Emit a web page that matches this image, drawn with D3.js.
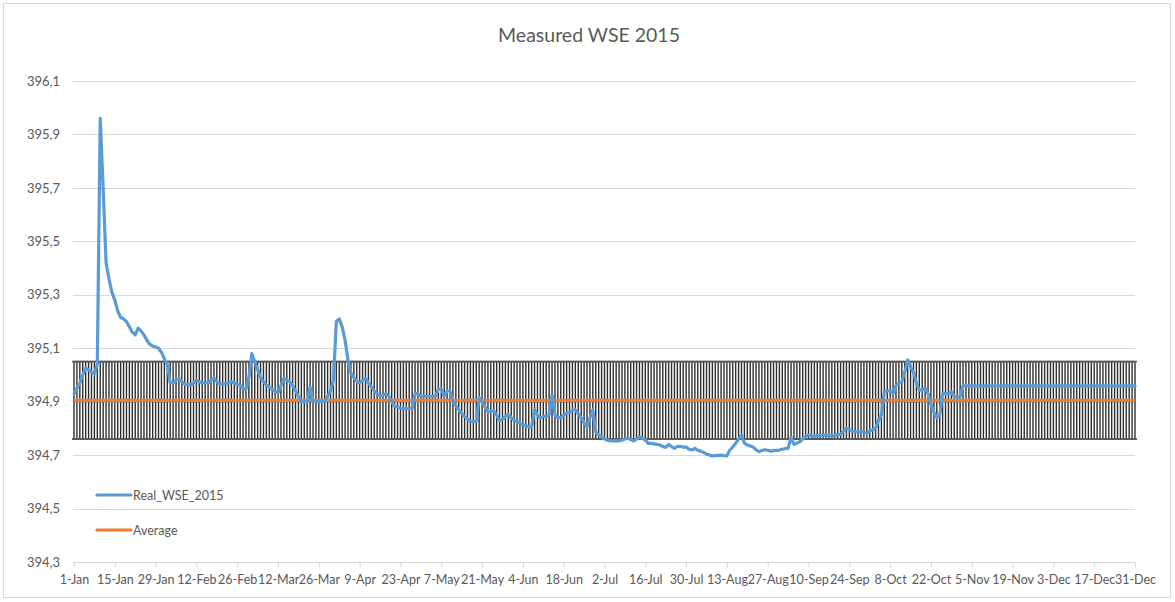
<!DOCTYPE html>
<html>
<head>
<meta charset="utf-8">
<script src="https://cdn.jsdelivr.net/npm/d3@7"></script>
<style>
body { margin:0; background:#fff; font-family: Lato, "Open Sans", sans-serif; }
svg text { fill:#595959; }
</style>
</head>
<body>
<svg id="chart" width="1175" height="602"></svg>
<script>
// daily water surface elevation, one array per month
var wseJan = [394.93,394.95,394.97,395.00,395.025,395.02,395.01,395.005,395.04,395.96,
  395.70,395.42,395.36,395.31,395.28,395.24,395.215,395.21,395.20,395.18,
  395.16,395.15,395.175,395.165,395.15,395.13,395.115,395.108,395.105,395.10,395.085];
var wseFeb = [395.06,395.04,394.97,394.97,394.98,394.985,394.975,394.965,394.965,394.962,
  394.97,394.98,394.975,394.971,394.97,394.97,394.98,394.99,394.975,394.966,
  394.968,394.969,394.972,394.975,394.97,394.965,394.962,394.95];
var wseMar = [394.946,394.99,395.08,395.05,395.02,394.99,394.975,394.962,394.955,394.946,
  394.94,394.933,394.96,394.987,394.98,394.975,394.96,394.94,394.92,394.90,
  394.90,394.90,394.956,394.90,394.90,394.90,394.90,394.90,394.92,394.94,394.98];
var wseApr = [395.20,395.21,395.18,395.13,395.056,395.006,394.99,394.975,394.971,394.98,
  394.987,394.97,394.956,394.94,394.93,394.921,394.925,394.93,394.92,394.90,
  394.883,394.88,394.876,394.874,394.874,394.874,394.874,394.93,394.93,394.92];
var wseMay = [394.92,394.92,394.92,394.92,394.92,394.947,394.947,394.92,394.94,394.94,
  394.90,394.885,394.87,394.856,394.845,394.835,394.825,394.825,394.826,394.915,
  394.90,394.88,394.863,394.863,394.866,394.85,394.828,394.835,394.845,394.853,394.84];
var wseJun = [394.83,394.825,394.82,394.813,394.81,394.806,394.806,394.869,394.85,394.84,
  394.845,394.845,394.85,394.925,394.85,394.84,394.84,394.85,394.856,394.86,
  394.869,394.869,394.855,394.84,394.82,394.806,394.84,394.869,394.787,394.775];
var wseJul = [394.768,394.76,394.756,394.753,394.753,394.753,394.753,394.756,394.76,394.763,
  394.758,394.753,394.76,394.767,394.762,394.757,394.744,394.744,394.742,394.74,
  394.738,394.732,394.729,394.74,394.732,394.725,394.733,394.733,394.73,394.73,394.722];
var wseAug = [394.719,394.725,394.718,394.715,394.71,394.704,394.70,394.697,394.698,394.699,
  394.70,394.698,394.697,394.719,394.73,394.744,394.76,394.775,394.745,394.738,
  394.734,394.73,394.72,394.713,394.717,394.72,394.718,394.715,394.717,394.718,394.719];
var wseSep = [394.722,394.725,394.725,394.767,394.74,394.745,394.75,394.76,394.77,394.775,
  394.772,394.77,394.772,394.774,394.775,394.773,394.771,394.77,394.773,394.776,
  394.778,394.79,394.80,394.795,394.79,394.788,394.787,394.787,394.787,394.78];
var wseOct = [394.79,394.795,394.80,394.83,394.85,394.937,394.94,394.94,394.93,394.96,
  394.969,394.975,395.01,395.056,395.03,395.01,394.97,394.943,394.945,394.95,
  394.93,394.89,394.86,394.84,394.85,394.93,394.93,394.93,394.937,394.918,394.918];
var wseNov = [394.918,394.959,394.959,394.959,394.959,394.959,394.959,394.959,394.959,394.959,
  394.959,394.959,394.959,394.959,394.959,394.959,394.959,394.959,394.959,394.959,
  394.959,394.959,394.959,394.959,394.959,394.959,394.959,394.959,394.959,394.959];
var wseDec = [394.959,394.959,394.959,394.959,394.959,394.959,394.959,394.959,394.959,394.959,
  394.959,394.959,394.959,394.959,394.959,394.959,394.959,394.959,394.959,394.959,
  394.959,394.959,394.959,394.959,394.959,394.959,394.959,394.959,394.959,394.959,394.959];

var averageWSE = 394.905;
var averageErr = 0.145;
var yTicks = [394.3,394.5,394.7,394.9,395.1,395.3,395.5,395.7,395.9,396.1];
var seriesNames = ["Real_WSE_2015","Average"];
var seriesColors = ["#5B9BD5","#ED7D31"];

var wse = [].concat(wseJan,wseFeb,wseMar,wseApr,wseMay,wseJun,wseJul,wseAug,wseSep,wseOct,wseNov,wseDec);
var start = new Date(2015,0,1);
var days = d3.timeDay.range(start, new Date(2016,0,1));
var data = days.map(function (d,i) { return {date:d, value:wse[i]}; });

var svg = d3.select("#chart");
var xScale = d3.scaleTime().domain([start, new Date(2015,11,31)]).range([74,1135]);
var yScale = d3.scaleLinear().domain([394.3,396.1]).range([562,81]);
var commaFmt = d3.formatLocale({decimal:",", thousands:".", grouping:[3], currency:["",""]}).format(".1f");
var dateFmt = d3.timeFormat("%-d-%b");
var xTicks = d3.range(0,365,14).map(function (i) { return d3.timeDay.offset(start,i); });

// chart frame
svg.append("rect").attr("x",3.5).attr("y",3.5).attr("width",1167).attr("height",594)
  .attr("fill","#fff").attr("stroke","#D9D9D9");

svg.append("text").text("Measured WSE 2015").attr("x",589).attr("y",42)
  .attr("text-anchor","middle").style("font-size","19.5px");

// gridlines
svg.append("g").selectAll("line").data(yTicks.slice(1)).enter().append("line")
  .attr("x1",73).attr("x2",1135)
  .attr("y1",function (d) { return Math.round(yScale(d))+0.5; })
  .attr("y2",function (d) { return Math.round(yScale(d))+0.5; })
  .attr("stroke","#D9D9D9").attr("stroke-width",1);

var yAxis = d3.axisLeft(yScale).tickValues(yTicks).tickFormat(commaFmt).tickSize(0).tickPadding(13);
var gy = svg.append("g").attr("transform","translate(73,0)").call(yAxis);
gy.select(".domain").remove();
gy.selectAll("text").style("font-size","13px").style("font-family","Lato, sans-serif");

var xAxis = d3.axisBottom(xScale).tickValues(xTicks).tickFormat(dateFmt).tickSize(5).tickPadding(8);
var gx = svg.append("g").attr("transform","translate(0,562.5)").call(xAxis);
gx.select(".domain").attr("stroke","#D9D9D9").attr("d","M73,0H1135");
gx.selectAll(".tick line").attr("stroke","#D9D9D9");
gx.selectAll("text").style("font-size","12.5px").style("font-family","Lato, sans-serif");

// error bars on the average series
var eb = svg.append("g").attr("stroke","#2e2e2e").attr("stroke-width",1.4);
eb.selectAll(".ebar").data(days).enter().append("line").attr("class","ebar")
  .attr("x1",function (d) { return xScale(d); }).attr("x2",function (d) { return xScale(d); })
  .attr("y1",yScale(averageWSE+averageErr)).attr("y2",yScale(averageWSE-averageErr));
eb.selectAll(".ecap").data(days.concat(days)).enter().append("line").attr("class","ecap")
  .attr("x1",function (d) { return xScale(d)-2; }).attr("x2",function (d) { return xScale(d)+2; })
  .attr("y1",function (d,i) { return yScale(i<days.length ? averageWSE+averageErr : averageWSE-averageErr); })
  .attr("y2",function (d,i) { return yScale(i<days.length ? averageWSE+averageErr : averageWSE-averageErr); })
  .attr("stroke","#595959").attr("stroke-width",1.8);

// average line
svg.append("path").datum(days)
  .attr("d", d3.line().x(function (d) { return xScale(d); }).y(function () { return yScale(averageWSE); }))
  .attr("fill","none").attr("stroke",seriesColors[1]).attr("stroke-width",3.2);

// measured series
svg.append("path").datum(data)
  .attr("d", d3.line().x(function (d) { return xScale(d.date); }).y(function (d) { return yScale(d.value); }))
  .attr("fill","none").attr("stroke",seriesColors[0]).attr("stroke-width",3.2)
  .attr("stroke-linejoin","round").attr("stroke-linecap","round");

// legend
var lg = svg.append("g").selectAll("g").data(seriesNames).enter().append("g")
  .attr("transform",function (d,i) { return "translate(97,"+(495+i*35)+")"; });
lg.append("line").attr("x1",0).attr("x2",34).attr("y1",0).attr("y2",0)
  .attr("stroke",function (d,i) { return seriesColors[i]; }).attr("stroke-width",3.2).attr("stroke-linecap","round");
lg.append("text").text(function (d) { return d; }).attr("x",36).attr("y",4.5).style("font-size","12.5px");
</script>
</body>
</html>
